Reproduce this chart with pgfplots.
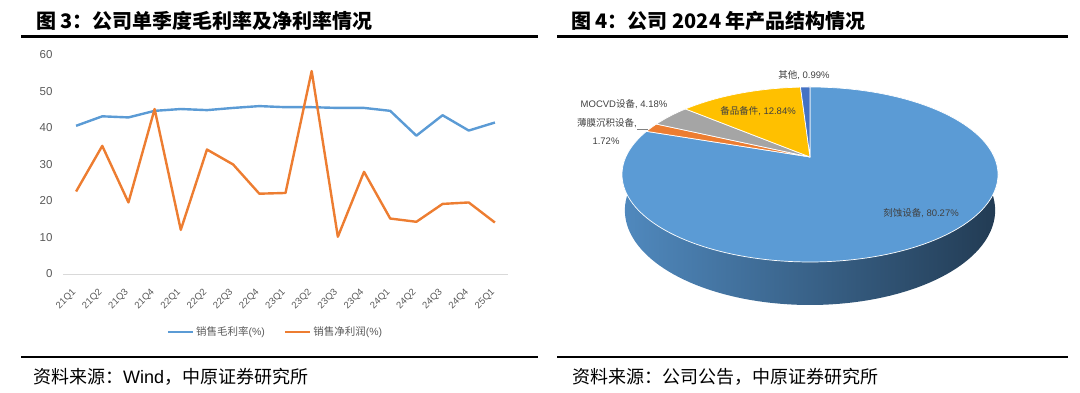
\documentclass[border=0pt]{standalone}
\usepackage{fontspec}
\usepackage{pgfplots}
\usepackage{pgfplotstable}
\pgfplotsset{compat=1.18}
\setmainfont{Liberation Sans}
\newfontfamily\cjk{Noto Sans CJK SC}
\definecolor{blueL}{HTML}{5B9BD5}
\definecolor{orangeL}{HTML}{ED7D31}
\definecolor{grayP}{HTML}{A5A5A5}
\definecolor{yellowP}{HTML}{FFC000}
\definecolor{darkP}{HTML}{4472C4}
\definecolor{tickC}{HTML}{595959}
\definecolor{gridC}{HTML}{D9D9D9}
\definecolor{labC}{HTML}{404040}
\definecolor{wallL}{HTML}{5089BE}
\definecolor{wallM}{HTML}{36638D}
\definecolor{wallR}{HTML}{223B53}

\pgfplotstableread{
q gross net
0 40.6 22.6
1 43.2 35.1
2 42.9 19.6
3 44.7 45.2
4 45.2 12.1
5 44.9 34.1
6 45.5 30.0
7 46.0 22.0
8 45.7 22.2
9 45.7 55.6
10 45.5 10.2
11 45.5 28.0
12 44.7 15.2
13 37.9 14.3
14 43.5 19.2
15 39.3 19.6
16 41.5 14.1
}\margins

\pgfplotstableread{
name share
etch 80.27
film 1.72
mocvd 4.18
spare 12.84
other 0.99
}\piedata

\begin{document}
\begin{tikzpicture}[x=1pt,y=1pt]
\useasboundingbox (0pt,0pt) rectangle (1080pt,393pt);
% shares -> cumulative angles (clockwise from 12 o'clock)
\pgfplotstablegetelem{0}{share}\of\piedata \pgfmathsetmacro\sA{\pgfplotsretval}
\pgfplotstablegetelem{1}{share}\of\piedata \pgfmathsetmacro\sB{\pgfplotsretval}
\pgfplotstablegetelem{2}{share}\of\piedata \pgfmathsetmacro\sC{\pgfplotsretval}
\pgfplotstablegetelem{3}{share}\of\piedata \pgfmathsetmacro\sD{\pgfplotsretval}
\pgfplotstablegetelem{4}{share}\of\piedata \pgfmathsetmacro\sE{\pgfplotsretval}
\pgfmathsetmacro\aA{90-3.6*\sA}
\pgfmathsetmacro\aB{\aA-3.6*\sB}
\pgfmathsetmacro\aC{\aB-3.6*\sC}
\pgfmathsetmacro\aD{\aC-3.6*\sD}
\pgfmathsetmacro\aE{\aD-3.6*\sE}

% titles, rules, sources
\node[anchor=west, inner sep=0pt, font=\fontsize{20}{22}\selectfont\cjk\bfseries] at (36pt,372pt) {图 3：公司单季度毛利率及净利率情况};
\node[anchor=west, inner sep=0pt, font=\fontsize{20}{22}\selectfont\cjk\bfseries] at (571pt,372pt) {图 4：公司 2024 年产品结构情况};
\draw[line width=2.6pt] (21pt,356.5pt) -- (538pt,356.5pt);
\draw[line width=2.6pt] (557pt,356.5pt) -- (1068pt,356.5pt);
\draw[line width=2.6pt] (21pt,36pt) -- (538pt,36pt);
\draw[line width=2.6pt] (557pt,36pt) -- (1068pt,36pt);
\node[anchor=west, inner sep=0pt, font=\fontsize{18}{20}\selectfont] at (33pt,16pt) {{\cjk 资料来源：}Wind{\cjk ，中原证券研究所}};
\node[anchor=west, inner sep=0pt, font=\fontsize{18}{20}\selectfont\cjk] at (572pt,16pt) {资料来源：公司公告，中原证券研究所};

% left: line chart
\begin{axis}[
  at={(63pt,119pt)}, anchor=south west, scale only axis,
  width=445pt, height=219pt,
  xmin=-0.5, xmax=16.5, ymin=0, ymax=60,
  xtick={0,...,16},
  xticklabels={21Q1,21Q2,21Q3,21Q4,22Q1,22Q2,22Q3,22Q4,23Q1,23Q2,23Q3,23Q4,24Q1,24Q2,24Q3,24Q4,25Q1},
  ytick={0,10,...,60},
  axis x line*=bottom, axis y line*=left,
  x axis line style={draw=gridC, line width=0.8pt, -},
  y axis line style={draw=none},
  major tick length=0pt, tick style={draw=none},
  /pgf/number format/assume math mode=true,
  yticklabel style={font=\fontsize{11.5}{13}\selectfont, text=tickC, xshift=-7pt},
  xticklabel style={font=\fontsize{9.5}{11}\selectfont, text=tickC, xshift=-1.5pt, yshift=-17pt, rotate=45, anchor=east, inner sep=0pt},
  legend style={at={(0.4775,-0.265)}, anchor=center, draw=none, fill=none,
    legend columns=2, font=\fontsize{10.5}{12}\selectfont, text=tickC,
    /tikz/every even column/.append style={column sep=17pt}},
  legend image code/.code={\draw[#1] (0pt,0pt) -- (25pt,0pt);},
]
\addplot[blueL, line width=2.4pt, line join=round] table[x=q, y=gross] {\margins};
\addlegendentry{{\cjk 销售毛利率}(\%)}
\addplot[orangeL, line width=2.4pt, line join=round] table[x=q, y=net] {\margins};
\addlegendentry{{\cjk 销售净利润}(\%)}
\end{axis}

% right: 3D pie
\begin{axis}[
  at={(0pt,0pt)}, anchor=south west, x=1pt, y=1pt,
  xmin=0, xmax=1080, ymin=0, ymax=393,
  hide axis, clip=false,
]
% side wall
\addplot[draw=none, left color=wallL, middle color=wallM, right color=wallR, domain=180:360, samples=90]
  ({810+181.4*cos(x)/(1+0.2*sin(x))}, {236+(84*sin(x)-34.4)/(1+0.2*sin(x))})
  -- (axis cs:998,218.5) -- (axis cs:810,236) -- (axis cs:622,218.5) -- cycle;
% top face slices
\addplot[fill=blueL, draw=white, line width=0.7pt, domain=\aA:90, samples=160]
  ({810+184.2*cos(x)/(1+0.2*sin(x))}, {236+84*sin(x)/(1+0.2*sin(x))}) -- (axis cs:810,236) -- cycle;
\addplot[fill=orangeL, draw=white, line width=0.7pt, domain=\aB:\aA, samples=10]
  ({810+184.2*cos(x)/(1+0.2*sin(x))}, {236+84*sin(x)/(1+0.2*sin(x))}) -- (axis cs:810,236) -- cycle;
\addplot[fill=grayP, draw=white, line width=0.7pt, domain=\aC:\aB, samples=15]
  ({810+184.2*cos(x)/(1+0.2*sin(x))}, {236+84*sin(x)/(1+0.2*sin(x))}) -- (axis cs:810,236) -- cycle;
\addplot[fill=yellowP, draw=white, line width=0.7pt, domain=\aD:\aC, samples=40]
  ({810+184.2*cos(x)/(1+0.2*sin(x))}, {236+84*sin(x)/(1+0.2*sin(x))}) -- (axis cs:810,236) -- cycle;
\addplot[fill=darkP, draw=white, line width=0.7pt, domain=\aE:\aD, samples=8]
  ({810+184.2*cos(x)/(1+0.2*sin(x))}, {236+84*sin(x)/(1+0.2*sin(x))}) -- (axis cs:810,236) -- cycle;
% labels
\node[font=\fontsize{9.5}{11}\selectfont, text=labC] at (axis cs:804,318) {{\cjk 其他}, 0.99\%};
\node[font=\fontsize{9.5}{11}\selectfont, text=labC] at (axis cs:624,289) {MOCVD{\cjk 设备}, 4.18\%};
\node[font=\fontsize{9.5}{11}\selectfont, text=labC] at (axis cs:607,270) {{\cjk 薄膜沉积设备}, };
\node[font=\fontsize{9.5}{11}\selectfont, text=labC] at (axis cs:606,252) {1.72\%};
\draw[gray, line width=0.5pt] (axis cs:637,264) -- (axis cs:648,264);
\node[font=\fontsize{9.5}{11}\selectfont, text=labC] at (axis cs:758,282) {{\cjk 备品备件}, 12.84\%};
\node[font=\fontsize{9.5}{11}\selectfont, text=labC] at (axis cs:921,180) {{\cjk 刻蚀设备}, 80.27\%};
\end{axis}
\end{tikzpicture}
\end{document}
